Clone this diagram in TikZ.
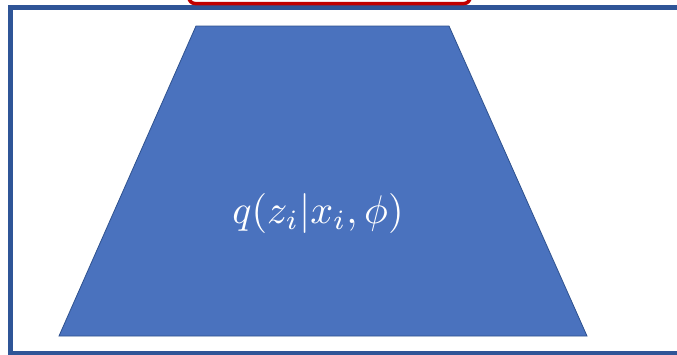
\documentclass[tikz,border=0pt]{standalone}
\usepackage{amsmath}
\definecolor{frameblue}{HTML}{2F5597}
\definecolor{trapfill}{HTML}{4A72BE}
\definecolor{trapline}{HTML}{2F528F}
\definecolor{boxred}{HTML}{C00000}
\tikzset{
  framebox/.style={draw=frameblue, line width=5pt},
  redbox/.style={draw=boxred, line width=3.5pt, rounded corners=6pt},
  trap/.style={fill=trapfill, draw=trapline, line width=0.8pt},
  label/.style={text=white, font=\normalsize, scale=4}
}
\begin{document}
\begin{tikzpicture}[x=1pt, y=-1pt]
\useasboundingbox (0,0) rectangle (677,354);
\clip (0,0) rectangle (677,354);
\fill[white] (0,0) rectangle (677,354);
\draw[framebox] (10.5,7.5) rectangle (720,353.5);
\draw[redbox] (189,-20) rectangle (470,3.5);
\draw[trap] (196,26) -- (449,26) -- (587,336) -- (59,336) -- cycle;
\node[label] (q) at (318,213) {$q(z_i|x_i,\phi)$};
\end{tikzpicture}
\end{document}
